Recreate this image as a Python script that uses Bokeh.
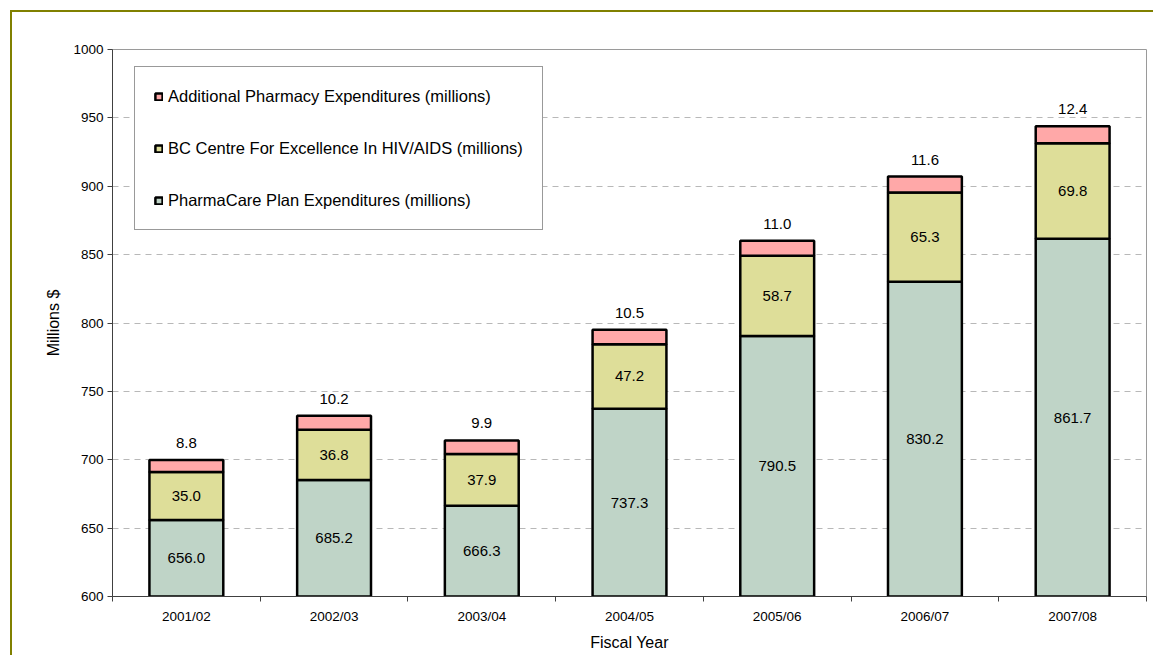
from bokeh.plotting import figure
from bokeh.models import (ColumnDataSource, FixedTicker, Legend, LegendItem, Range1d)
from bokeh.core.properties import value
from bokeh.embed import file_html
from bokeh.resources import INLINE

# Pharmacy spending by fiscal year (millions of dollars)
fiscal_years = ["2001/02", "2002/03", "2003/04", "2004/05", "2005/06", "2006/07", "2007/08"]
pharmacare = [656.0, 685.2, 666.3, 737.3, 790.5, 830.2, 861.7]
bc_centre = [35.0, 36.8, 37.9, 47.2, 58.7, 65.3, 69.8]
additional = [8.8, 10.2, 9.9, 10.5, 11.0, 11.6, 12.4]

series_names = [
    "PharmaCare Plan Expenditures (millions)",
    "BC Centre For Excellence In HIV/AIDS (millions)",
    "Additional Pharmacy Expenditures (millions)",
]
y_ticks = [600, 650, 700, 750, 800, 850, 900, 950, 1000]

FONT = "Liberation Sans"
colors = ["#BFD4C7", "#DEDE99", "#FFA8A8"]

n = len(fiscal_years)
xs = list(range(1, n + 1))
y_floor = y_ticks[0]

top1 = pharmacare
top2 = [a + b for a, b in zip(pharmacare, bc_centre)]
top3 = [a + b for a, b in zip(top2, additional)]

src = ColumnDataSource(dict(
    x=xs,
    floor=[y_floor] * n,
    top1=top1, top2=top2, top3=top3,
    lab1=[f"{v:.1f}" for v in pharmacare],
    lab2=[f"{v:.1f}" for v in bc_centre],
    lab3=[f"{v:.1f}" for v in additional],
    mid1=[(y_floor + t) / 2 for t in top1],
    mid2=[a + b / 2 for a, b in zip(top1, bc_centre)],
))

# the page frame: olive rule along the left and top edges
p = figure(width=1143, height=645, output_backend="svg", toolbar_location=None,
           x_range=Range1d(0.5, n + 0.5), y_range=Range1d(y_ticks[0], y_ticks[-1]),
           min_border_left=100, min_border_right=9, min_border_top=37,
           min_border_bottom=61,
           styles={"margin-left": "10px", "margin-top": "10px",
                   "border-left": "2px solid #808000",
                   "border-top": "2px solid #808000"})
p.background_fill_color = "white"
p.border_fill_color = "white"
p.outline_line_color = "#9a9a9a"
p.outline_line_width = 1

bar_kw = dict(width=0.5, line_color="black", line_width=2.5, source=src)
r1 = p.vbar(x="x", bottom="floor", top="top1", fill_color=colors[0], **bar_kw)
r2 = p.vbar(x="x", bottom="top1", top="top2", fill_color=colors[1], **bar_kw)
r3 = p.vbar(x="x", bottom="top2", top="top3", fill_color=colors[2], **bar_kw)

lab_kw = dict(source=src, text_font=value(FONT), text_font_size="15px",
              text_color="black", text_align="center", text_baseline="middle")
p.text(x="x", y="mid1", text="lab1", **lab_kw)
p.text(x="x", y="mid2", text="lab2", **lab_kw)
p.text(x="x", y="top3", text="lab3", y_offset=-17, **lab_kw)

# axes
p.xaxis.ticker = FixedTicker(ticks=xs, minor_ticks=[x - 0.5 for x in xs] + [n + 0.5])
p.xaxis.major_label_overrides = {x: lab for x, lab in zip(xs, fiscal_years)}
p.xaxis.major_tick_out = 0
p.xaxis.major_tick_in = 0
p.xaxis.minor_tick_out = 5
p.xaxis.minor_tick_in = 0
p.xaxis.minor_tick_line_color = "#404040"
p.xaxis.major_label_standoff = 7
p.xaxis.axis_label = "Fiscal Year"
p.xaxis.axis_label_standoff = 7

p.yaxis.ticker = FixedTicker(ticks=y_ticks)
p.yaxis.major_tick_out = 5
p.yaxis.major_tick_in = 0
p.yaxis.minor_tick_line_color = None
p.yaxis.major_label_standoff = 4
p.yaxis.axis_label = "Millions $"
p.yaxis.axis_label_standoff = 8

for ax in (p.xaxis, p.yaxis):
    ax.axis_line_color = "#404040"
    ax.axis_line_width = 1
    ax.major_tick_line_color = "#404040"
    ax.major_label_text_font = FONT
    ax.major_label_text_font_size = "13.5px"
    ax.major_label_text_color = "black"
    ax.axis_label_text_font = FONT
    ax.axis_label_text_font_size = "16px"
    ax.axis_label_text_font_style = "normal"
    ax.axis_label_text_color = "black"

p.xgrid.grid_line_color = None
p.ygrid.grid_line_color = "#b8b8b8"
p.ygrid.grid_line_dash = "6 5"
p.ygrid.grid_line_width = 1

legend = Legend(items=[
    LegendItem(label=series_names[2], renderers=[r3]),
    LegendItem(label=series_names[1], renderers=[r2]),
    LegendItem(label=series_names[0], renderers=[r1]),
], location=(22, 366))
legend.label_text_font = FONT
legend.label_text_font_size = "16.5px"
legend.label_text_color = "black"
legend.glyph_width = 9
legend.glyph_height = 9
legend.label_height = 20
legend.label_standoff = 5
legend.spacing = 32
legend.padding = 19
legend.margin = 0
legend.border_line_color = "#333333"
legend.border_line_width = 1
legend.background_fill_alpha = 1
p.add_layout(legend, "center")

open("out.html", "w").write(file_html(p, INLINE))
